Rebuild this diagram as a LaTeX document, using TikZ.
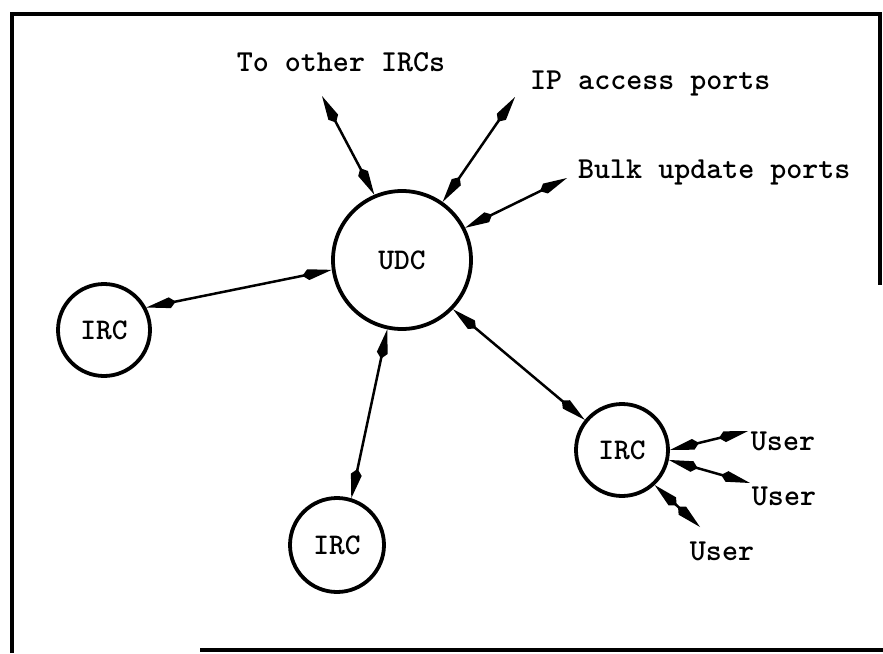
\documentclass[tikz,border=0pt]{standalone}
\usepackage{fontspec}
\usetikzlibrary{arrows.meta}
\begin{document}
\begin{tikzpicture}[x=1pt,y=-1pt,
  hub/.style={circle,draw,line width=3.8pt,inner sep=0pt,font=\fontsize{30}{34}\ttfamily\bfseries\selectfont},
  lbl/.style={inner sep=0pt,font=\fontsize{30.5}{34}\ttfamily\bfseries\selectfont},
  tipk/.tip={Kite[length=30pt,width=11pt,inset=6pt]},
  link/.style={line width=2.5pt,{tipk}-{tipk}},
  frame/.style={line width=3.6pt}]
\useasboundingbox (0,0) rectangle (883,653);
% frame
\draw[frame] (12,653) -- (12,14) -- (880,14) -- (880,285);
\draw[frame] (200,650) -- (883,650);
% nodes
\node[hub,minimum size=138pt] (udc) at (402,260) {UDC};
\node[hub,minimum size=92pt] (ircL) at (104,330) {IRC};
\node[hub,minimum size=94pt] (ircB) at (337,545) {IRC};
\node[hub,minimum size=92pt] (ircR) at (622,450) {IRC};
% labels
\node[lbl] (tooth) at (341,62) {To other IRCs};
\node[lbl,anchor=west] (ipa) at (530,83) {IP access ports};
\node[lbl,anchor=west] (bulk) at (578,172) {Bulk update ports};
\node[lbl] (u1) at (783,441) {User};
\node[lbl] (u2) at (784,496) {User};
\node[lbl] (u3) at (722,551) {User};
% free ends
\coordinate (eTo) at (322,96);
\coordinate (eIP) at (515,97);
\coordinate (eBulk) at (567,178);
\coordinate (eU1) at (748,431);
\coordinate (eU2) at (750,483);
\coordinate (eU3) at (700,527);
% connectors
\draw[link] (eTo) -- (udc.113);
\draw[link] (eIP) -- (udc.55);
\draw[link] (eBulk) -- (udc.27);
\draw[link] (udc.188) -- (ircL.28);
\draw[link] (udc.258) -- (ircB.73);
\draw[link] (udc.316) -- (ircR.141);
\draw[link] (ircR.0) -- (eU1);
\draw[link] (ircR.-12) -- (eU2);
\draw[link] (ircR.-47) -- (eU3);
\end{tikzpicture}
\end{document}
